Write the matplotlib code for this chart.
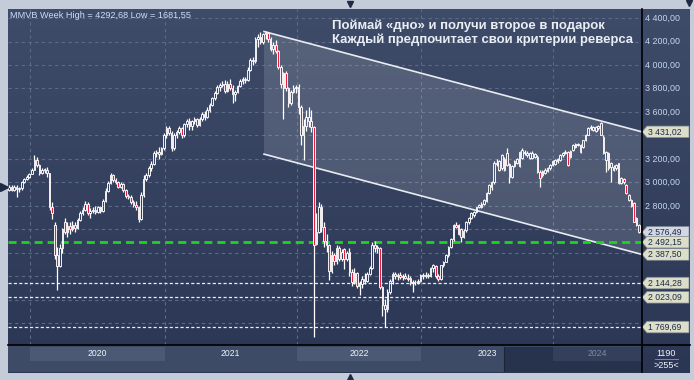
import numpy as np
import matplotlib
matplotlib.use("Agg")
import matplotlib.pyplot as plt
from matplotlib.colors import LinearSegmentedColormap
from matplotlib.patches import Polygon, Rectangle

plt.rcParams['font.family'] = ['Liberation Sans', 'DejaVu Sans']

# ---------------- data (weekly MMVB candles, Nov 2019 - Aug 2024) ----------------
opens = [
    2940, 2960, 2935, 2965, 2945, 2950, 3000, 3030, 3045, 3075,
    3110, 3195, 3150, 3085, 3105, 3110, 3080, 2790, 2640, 2380,
    2290, 2440, 2660, 2580, 2630, 2600, 2640, 2610, 2680, 2740,
    2770, 2820, 2740, 2760, 2770, 2750, 2790, 2760, 2840, 2930,
    2995, 3060, 3020, 3000, 2965, 2985, 2935, 2885, 2875, 2835,
    2810, 2790, 2690, 2890, 3030, 3060, 3120, 3160, 3250, 3260,
    3240, 3290, 3400, 3460, 3420, 3290, 3400, 3430, 3460, 3400,
    3500, 3520, 3480, 3520, 3540, 3490, 3540, 3580, 3560, 3620,
    3660, 3720, 3760, 3810, 3830, 3840, 3780, 3840, 3800, 3750,
    3770, 3820, 3860, 3880, 3870, 3960, 4040, 4030, 4220, 4240,
    4200, 4260, 4270, 4220, 4140, 4170, 4120, 3985, 3800, 3930,
    3800, 3680, 3770, 3800, 3810, 3640, 3400, 3480, 3560, 3520,
    3470, 2480, 2580, 2790, 2620, 2500, 2470, 2250, 2380, 2330,
    2440, 2350, 2430, 2350, 2410, 2240, 2150, 2230, 2120, 2140,
    2180, 2160, 2220, 2270, 2470, 2450, 2440, 2110, 1960, 1920,
    2070, 2160, 2220, 2200, 2210, 2195, 2205, 2190, 2184, 2142,
    2150, 2155, 2160, 2210, 2200, 2215, 2205, 2269, 2290, 2200,
    2175, 2295, 2326, 2380, 2454, 2515, 2638, 2640, 2600, 2540,
    2595, 2666, 2700, 2720, 2750, 2808, 2795, 2820, 2845, 2908,
    2960, 3000, 3170, 3180, 3120, 3200, 3248, 3160, 3050, 3140,
    3170, 3140, 3206, 3250, 3250, 3206, 3210, 3220, 3220, 3092,
    3100, 3080, 3100, 3120, 3150, 3160, 3180, 3190, 3230, 3250,
    3262, 3220, 3276, 3300, 3320, 3320, 3300, 3360, 3404, 3460,
    3470, 3440, 3460, 3503, 3390, 3191, 3250, 3130, 3130, 3120,
    3163, 2993, 3030, 2978, 2893, 2850, 2823, 2700, 2638,
]
highs = [
    2975, 2975, 2975, 2975, 2960, 3010, 3040, 3060, 3085, 3120,
    3234, 3220, 3160, 3120, 3125, 3130, 3085, 2830, 2665, 2450,
    2480, 2610, 2700, 2660, 2660, 2670, 2660, 2700, 2760, 2790,
    2840, 2830, 2780, 2790, 2800, 2800, 2800, 2860, 2950, 3010,
    3080, 3075, 3040, 3010, 3000, 2995, 2945, 2900, 2890, 2850,
    2840, 2800, 2920, 3060, 3080, 3140, 3180, 3270, 3280, 3300,
    3300, 3420, 3480, 3480, 3440, 3420, 3450, 3480, 3470, 3510,
    3540, 3550, 3530, 3560, 3550, 3560, 3600, 3610, 3640, 3680,
    3730, 3780, 3830, 3850, 3860, 3870, 3860, 3880, 3830, 3790,
    3830, 3880, 3900, 3900, 3980, 4060, 4070, 4240, 4260, 4280,
    4270, 4292.68, 4285, 4240, 4200, 4210, 4130, 4000, 3940, 3950,
    3810, 3790, 3830, 3830, 3840, 3660, 3540, 3620, 3640, 3620,
    3480, 2740, 2830, 2820, 2660, 2560, 2480, 2420, 2400, 2470,
    2460, 2430, 2440, 2420, 2440, 2260, 2270, 2240, 2160, 2200,
    2230, 2240, 2290, 2490, 2500, 2470, 2450, 2120, 2010, 2090,
    2180, 2240, 2240, 2230, 2240, 2220, 2230, 2220, 2200, 2170,
    2170, 2180, 2220, 2230, 2240, 2230, 2280, 2310, 2300, 2220,
    2300, 2335, 2390, 2460, 2530, 2645, 2660, 2650, 2610, 2600,
    2670, 2710, 2745, 2755, 2795, 2815, 2830, 2860, 2915, 2985,
    3010, 3180, 3200, 3190, 3240, 3220, 3290, 3170, 3150, 3190,
    3210, 3270, 3290, 3275, 3265, 3260, 3265, 3250, 3230, 3110,
    3110, 3120, 3130, 3160, 3190, 3200, 3210, 3240, 3260, 3275,
    3270, 3280, 3325, 3340, 3340, 3330, 3365, 3410, 3470, 3490,
    3485, 3485, 3490, 3518, 3400, 3270, 3260, 3175, 3150, 3160,
    3170, 3045, 3040, 2990, 2900, 2860, 2830, 2710, 2650,
]
lows = [
    2925, 2925, 2930, 2880, 2920, 2940, 2995, 3025, 3040, 3070,
    3105, 3130, 3060, 3070, 3085, 3050, 2770, 2690, 2350, 2085,
    2280, 2400, 2560, 2540, 2560, 2590, 2580, 2600, 2670, 2720,
    2760, 2720, 2700, 2740, 2730, 2740, 2740, 2750, 2830, 2920,
    2990, 3000, 2985, 2950, 2950, 2920, 2870, 2860, 2820, 2790,
    2770, 2660, 2680, 2880, 3010, 3050, 3100, 3150, 3220, 3200,
    3230, 3280, 3380, 3400, 3270, 3280, 3380, 3410, 3380, 3390,
    3470, 3450, 3450, 3500, 3470, 3480, 3520, 3530, 3550, 3600,
    3650, 3700, 3750, 3780, 3810, 3760, 3770, 3790, 3680, 3690,
    3760, 3810, 3840, 3850, 3860, 3950, 4000, 4020, 4150, 4180,
    4180, 4220, 4200, 4120, 4090, 4100, 3970, 3800, 3540, 3780,
    3640, 3660, 3760, 3760, 3580, 3320, 3190, 3440, 3470, 3430,
    1681.55, 2470, 2570, 2580, 2450, 2410, 2170, 2230, 2300, 2310,
    2330, 2330, 2260, 2330, 2200, 2120, 2140, 2100, 2040, 2100,
    2140, 2150, 2210, 2260, 2410, 2400, 2090, 1860, 1769.69, 1900,
    2050, 2140, 2180, 2170, 2180, 2170, 2180, 2160, 2130, 2071,
    2130, 2140, 2150, 2180, 2190, 2190, 2195, 2240, 2190, 2160,
    2170, 2285, 2320, 2370, 2440, 2505, 2610, 2550, 2497, 2530,
    2580, 2650, 2690, 2710, 2740, 2780, 2780, 2810, 2835, 2900,
    2940, 2990, 3140, 3100, 3110, 3100, 3140, 2993, 3040, 3130,
    3160, 3130, 3200, 3230, 3220, 3200, 3200, 3210, 3085, 2964,
    3050, 3070, 3090, 3110, 3140, 3150, 3170, 3185, 3220, 3240,
    3140, 3210, 3270, 3290, 3310, 3250, 3290, 3350, 3400, 3450,
    3440, 3430, 3450, 3400, 3240, 3092, 3110, 3007, 3100, 3110,
    2985, 2985, 2990, 2900, 2845, 2790, 2660, 2630, 2570,
]
closes = [
    2960, 2935, 2965, 2945, 2950, 3000, 3030, 3045, 3075, 3110,
    3195, 3150, 3085, 3105, 3110, 3080, 2790, 2740, 2380, 2290,
    2440, 2600, 2580, 2630, 2600, 2640, 2610, 2680, 2740, 2770,
    2820, 2740, 2760, 2770, 2750, 2790, 2760, 2840, 2930, 2995,
    3060, 3020, 3000, 2965, 2985, 2935, 2885, 2875, 2835, 2810,
    2790, 2690, 2890, 3030, 3060, 3120, 3160, 3250, 3260, 3240,
    3290, 3400, 3460, 3420, 3290, 3400, 3430, 3460, 3400, 3500,
    3520, 3480, 3520, 3540, 3490, 3540, 3580, 3560, 3620, 3660,
    3720, 3760, 3810, 3830, 3840, 3780, 3840, 3800, 3750, 3770,
    3820, 3860, 3880, 3870, 3960, 4040, 4030, 4220, 4240, 4200,
    4260, 4270, 4220, 4140, 4170, 4120, 3985, 3840, 3930, 3800,
    3680, 3770, 3800, 3810, 3640, 3400, 3480, 3560, 3520, 3470,
    2470, 2580, 2790, 2620, 2500, 2470, 2250, 2380, 2330, 2440,
    2350, 2410, 2350, 2400, 2240, 2150, 2230, 2120, 2140, 2180,
    2160, 2220, 2270, 2470, 2440, 2440, 2110, 1960, 1920, 2070,
    2160, 2220, 2200, 2210, 2195, 2205, 2190, 2180, 2142, 2150,
    2155, 2160, 2210, 2200, 2215, 2205, 2269, 2298, 2200, 2175,
    2295, 2326, 2380, 2454, 2520, 2638, 2625, 2560, 2540, 2590,
    2666, 2700, 2737, 2745, 2790, 2795, 2820, 2850, 2908, 2978,
    3000, 3170, 3160, 3110, 3234, 3110, 3149, 3050, 3140, 3180,
    3200, 3262, 3276, 3255, 3230, 3248, 3250, 3240, 3092, 3035,
    3060, 3110, 3120, 3150, 3180, 3191, 3200, 3230, 3250, 3262,
    3149, 3270, 3319, 3330, 3330, 3260, 3360, 3404, 3461, 3475,
    3450, 3475, 3480, 3404, 3248, 3262, 3120, 3170, 3110, 3150,
    2993, 3035, 3000, 2908, 2851, 2800, 2667, 2640, 2576.49,
]

year_starts = [8, 61, 113, 162, 214]
year_labels = ["2020", "2021", "2022", "2023", "2024"]
y_ticks = [4400, 4200, 4000, 3800, 3600, 3400, 3200, 3000, 2800, 2600, 2400, 2200, 2000, 1800]
support_level = 2492.15
ref_levels = [2144.28, 2023.09, 1769.69]
channel_x = [100.4, 249.2]
channel_upper = [4285.0, 3431.02]
channel_lower = [3241.5, 2387.50]
marker_labels = [3431.02, 2576.49, 2492.15, 2387.50, 2144.28, 2023.09, 1769.69]
title_lines = ["Поймай «дно» и получи второе в подарок",
               "Каждый предпочитает свои критерии реверса"]
bars_count = "1190"
bars_shift = ">255<"

# ---------------- figure ----------------
W, H = 694, 380
fig = plt.figure(figsize=(W / 100, H / 100), dpi=100)
fig.patch.set_facecolor('#c3ccd8')


def rect(x0, y0, x1, y1):
    return [x0 / W, 1 - y1 / H, (x1 - x0) / W, (y1 - y0) / H]


# background gradient panel
bg = fig.add_axes(rect(8, 9, 690, 373), zorder=0)
cmap = LinearSegmentedColormap.from_list('bgc', ['#2a3654', '#3f4c69'])
grad = np.linspace(0, 1, 256).reshape(-1, 1)
bg.imshow(grad, aspect='auto', cmap=cmap, origin='lower', extent=[0, 1, 0, 1])
bg.set_axis_off()

# main price axes
X_LEFT, X_RIGHT = -0.39, 249.2
Y_BOTTOM, Y_TOP = 1617.0, 4476.6
ax = fig.add_axes(rect(8, 9, 642, 345), zorder=2)
ax.set_xlim(X_LEFT, X_RIGHT)
ax.set_ylim(Y_BOTTOM, Y_TOP)
ax.patch.set_alpha(0)
ax.set_axis_off()

grid_c = '#5c6a88'
for v in y_ticks:
    ax.axhline(v, color=grid_c, lw=0.8, ls=(0, (3, 3)), zorder=1)
for ys in year_starts:
    ax.axvline(ys + 0.3, color=grid_c, lw=0.8, ls=(0, (3, 3)), zorder=1)

# channel
poly = Polygon([(channel_x[0], channel_upper[0]), (channel_x[1], channel_upper[1]),
                (channel_x[1], channel_lower[1]), (channel_x[0], channel_lower[0])],
               closed=True, facecolor='white', alpha=0.13, edgecolor='none', zorder=1.5)
ax.add_patch(poly)
ax.plot(channel_x, channel_upper, color='#e8ecf2', lw=1.2, zorder=2)
ax.plot(channel_x, channel_lower, color='#e8ecf2', lw=1.2, zorder=2)

# reference lines
ax.axhline(support_level, color='#1ed41e', lw=2.0, ls=(0, (2.9, 1.8)), zorder=2.5)
for lv in ref_levels:
    ax.axhline(lv, color='#eeeeee', lw=0.9, ls=(0, (2.5, 1.8)), zorder=2.5)

# candles
o = np.array(opens, float)
h = np.array(highs, float)
l = np.array(lows, float)
c = np.array(closes, float)
idx = np.arange(len(c))
up = c >= o
blo = np.minimum(o, c)
bhi = np.maximum(o, c)
ax.vlines(idx, bhi, h, color='white', lw=0.9, zorder=3)
ax.vlines(idx, l, blo, color='white', lw=0.9, zorder=3)
bh = np.maximum(bhi - blo, 6)
ax.bar(idx, bh, bottom=blo, width=0.64,
       color=['none' if u else '#e3203d' for u in up],
       edgecolor='white', linewidth=0.65, zorder=4)

# date strip
dax = fig.add_axes(rect(8, 345, 642, 372), zorder=2)
dax.set_xlim(X_LEFT, X_RIGHT)
dax.set_ylim(0, 1)
dax.set_facecolor('#3e4b66')
for s in dax.spines.values():
    s.set_visible(False)
dax.set_xticks([])
dax.set_yticks([])

# overlay in pixel coordinates
ov = fig.add_axes([0, 0, 1, 1], zorder=5)
ov.set_xlim(0, W)
ov.set_ylim(H, 0)
ov.patch.set_alpha(0)
ov.set_axis_off()


def to_px(axis, x, y):
    d = axis.transData.transform((x, y))
    return ov.transData.inverted().transform(d)


# year bands & labels
bounds = year_starts + [X_RIGHT]
ov.add_patch(Rectangle((504, 347), 138, 25, facecolor='#27324c', edgecolor='none', zorder=1))
ov.plot([504, 504], [347, 371], color='#1c2538', lw=0.8, zorder=1.2)
year_texts = []
for k, lab in enumerate(year_labels):
    x0 = to_px(dax, bounds[k] + 0.3, 0)[0]
    x1 = min(to_px(dax, bounds[k + 1] + 0.3, 0)[0], 642)
    if k % 2 == 0:
        fc = '#34405b' if x0 > 504 else '#4b5974'
        ov.add_patch(Rectangle((x0, 347), x1 - x0, 13.5, facecolor=fc, edgecolor='none', zorder=1.1))
    col = '#7f8aa0' if x0 > 504 else '#f0f4fa'
    t = ov.text((x0 + x1) / 2, 354, lab, ha='center', va='center', color=col, fontsize=6.5, zorder=3)
    year_texts.append(t)

# frame lines
ov.plot([642, 642], [9, 372], color='black', lw=1.2, zorder=4)
ov.plot([8, 690], [345, 345], color='black', lw=1.2, zorder=4)


def fmt(v):
    return f"{v:,.2f}".replace(",", " ").replace(".", ",")


# value boxes (positions first, so covered tick labels can be skipped)
box_y = [to_px(ax, 0, v)[1] for v in marker_labels]

# right axis tick labels (those hidden under a value box are not drawn)
tick_texts = []
for v in y_ticks:
    yp = to_px(ax, 0, v)[1]
    if min(abs(yp - by) for by in box_y) < 9:
        continue
    t = ov.text(645, yp, fmt(v), ha='left', va='center', color='#c6d6ee', fontsize=6.2, zorder=2)
    tick_texts.append(t)

box_texts = []
for v, yp in zip(marker_labels, box_y):
    fc = '#d3d7e2' if abs(v - closes[-1]) < 0.01 else '#dcdec8'
    pts = [(642, yp), (647, yp - 5.8), (689, yp - 5.8), (689, yp + 5.8), (647, yp + 5.8)]
    ov.add_patch(Polygon(pts, closed=True, facecolor=fc, edgecolor='#7d8494', lw=0.5, zorder=3))
    t = ov.text(648, yp + 0.3, fmt(v), ha='left', va='center', color='#1b2b4c', fontsize=6.4, zorder=3.5)
    box_texts.append(t)

# bottom-right counter box
ov.text(666, 353, bars_count, ha='center', va='center', color='#f0f4fa', fontsize=6.5, zorder=3)
ov.plot([655, 678], [359, 359], color='#8c98b0', lw=0.6, zorder=3)
ov.text(666, 366, bars_shift, ha='center', va='center', color='#f0f4fa', fontsize=6.5, zorder=3)

# header
header = "MMVB Week High = {} Low = {}".format(
    f"{max(highs):.2f}".replace(".", ","), f"{min(lows):.2f}".replace(".", ","))
ht = ov.text(10, 18, header, ha='left', va='baseline', color='#cfdcf2', fontsize=6.5, zorder=3)

t1 = ov.text(332, 28.5, title_lines[0], ha='left', va='baseline', color='#e9edf4',
             fontsize=9.5, fontweight='bold', zorder=3)
t2 = ov.text(332, 43.5, title_lines[1], ha='left', va='baseline', color='#e9edf4',
             fontsize=9.5, fontweight='bold', zorder=3)

# little navigation triangles
ov.plot([350], [3.5], marker='v', color='#1f2a44', ms=5, zorder=6)
ov.plot([350], [376.5], marker='^', color='#1f2a44', ms=5, zorder=6)
ov.plot([4], [187], marker='>', color='#1f2a44', ms=6, zorder=6)
ov.plot([689], [3], marker='v', color='#1f2a44', ms=4, zorder=6)

# fit text widths to the reference
fig.canvas.draw()
r = fig.canvas.get_renderer()


def fit(texts, target):
    w = texts[0].get_window_extent(r).width
    s = texts[0].get_fontsize() * target / w
    for t in texts:
        t.set_fontsize(s)


fit([t2, t1], 303)
fit([ht], 181)
fit(tick_texts, 35)
fit(box_texts, 34)
fit(year_texts, 19)

fig.savefig("out.png", dpi=100, facecolor=fig.get_facecolor())
